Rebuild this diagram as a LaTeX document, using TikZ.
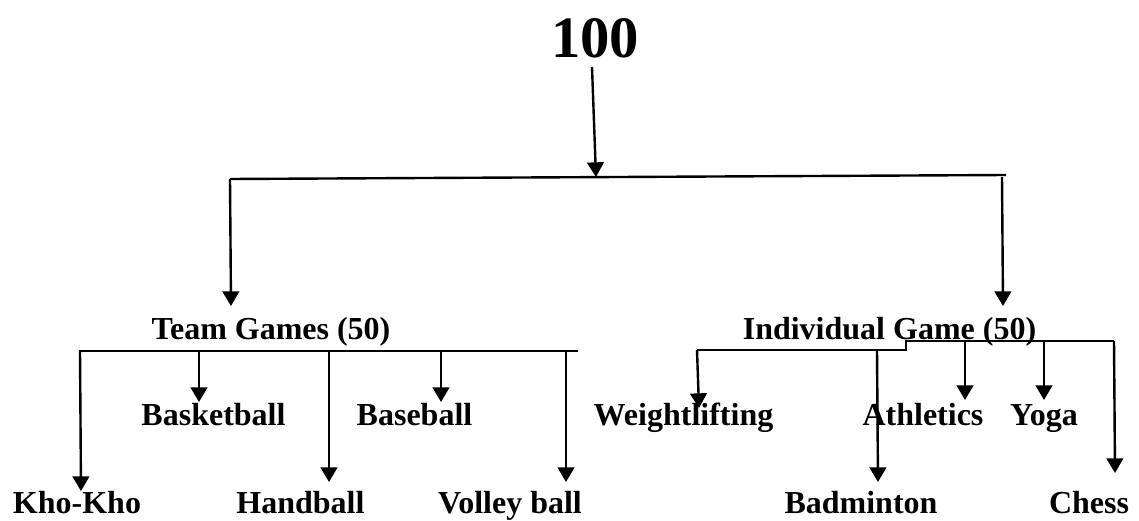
\documentclass[tikz,border=0pt]{standalone}
\usepackage{fontspec}
\setmainfont{Liberation Serif}
\usetikzlibrary{arrows.meta}
\tikzset{
  lbl/.style={anchor=base, inner sep=0pt, font=\fontsize{24pt}{28pt}\selectfont\bfseries},
  big/.style={anchor=base, inner sep=0pt, font=\fontsize{44pt}{48pt}\selectfont\bfseries},
  ln/.style={line width=1.8pt, black},
  arr/.style={ln, -{Triangle[width=12.5pt,length=11pt]}}
}
\begin{document}
\begin{tikzpicture}[x=0.75pt,y=-0.75pt]
\useasboundingbox (0,0) rectangle (1139,521);
% texts
\node[big] (root) at (595,57) {100};
\node[lbl] (team) at (271,339) {Team Games (50)};
\node[lbl] (indiv) at (889.5,339) {Individual Game (50)};
\node[lbl] (basket) at (213.5,425) {Basketball};
\node[lbl] (base) at (414.5,425) {Baseball};
\node[lbl] (weight) at (683.5,425) {Weightlifting};
\node[lbl] (athl) at (923,425) {Athletics};
\node[lbl] (yoga) at (1044,425) {Yoga};
\node[lbl] (kho) at (77,513) {Kho-Kho};
\node[lbl] (hand) at (300.5,513) {Handball};
\node[lbl] (volley) at (510,513) {Volley ball};
\node[lbl] (badm) at (861,513) {Badminton};
\node[lbl] (chess) at (1089,513) {Chess};
% junction coordinates
\coordinate (rootout) at (592,67);
\coordinate (topmid) at (596,177);
\coordinate (topL) at (230,179);
\coordinate (topR) at (1006,175);
\coordinate (topRd) at (1002,177);
\coordinate (teamin) at (231,306);
\coordinate (indivin) at (1003,306);
\coordinate (tL) at (79,351);
\coordinate (tR) at (578,351);
\coordinate (t1) at (80,351);   \coordinate (khoin) at (81,491);
\coordinate (t2) at (199,351);  \coordinate (basketin) at (199,402);
\coordinate (t3) at (329,351);  \coordinate (handin) at (329,482);
\coordinate (t4) at (441,351);  \coordinate (basein) at (441,402);
\coordinate (t5) at (566,351);  \coordinate (volleyin) at (566,482);
\coordinate (iL) at (697,350);
\coordinate (iS1) at (906,350);
\coordinate (iS2) at (906,341);
\coordinate (iR) at (1114,341);
\coordinate (i1) at (697,350);  \coordinate (weightin) at (699,408);
\coordinate (i2) at (877,350);  \coordinate (badmin) at (878,482);
\coordinate (i3) at (965,341);  \coordinate (athlin) at (965,400);
\coordinate (i4) at (1044,341); \coordinate (yogain) at (1044,400);
\coordinate (i5) at (1114,341); \coordinate (chessin) at (1115,473);
% connectors
\draw[arr] (rootout) -- (topmid);
\draw[ln] (topL) -- (topR);
\draw[arr] (topL) -- (teamin);
\draw[arr] (topRd) -- (indivin);
\draw[ln] (tL) -- (tR);
\draw[arr] (t1) -- (khoin);
\draw[arr] (t2) -- (basketin);
\draw[arr] (t3) -- (handin);
\draw[arr] (t4) -- (basein);
\draw[arr] (t5) -- (volleyin);
\draw[ln] (iL) -- (iS1) -- (iS2) -- (iR);
\draw[arr] (i1) -- (weightin);
\draw[arr] (i2) -- (badmin);
\draw[arr] (i3) -- (athlin);
\draw[arr] (i4) -- (yogain);
\draw[arr] (i5) -- (chessin);
\end{tikzpicture}
\end{document}
